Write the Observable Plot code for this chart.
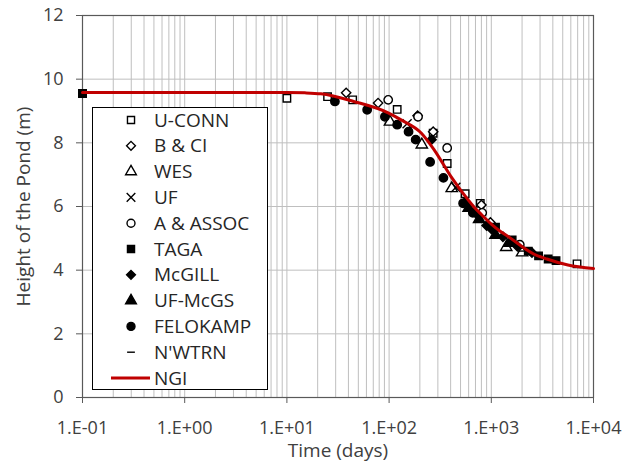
<!DOCTYPE html>
<html><head><meta charset="utf-8">
<script src="https://cdn.jsdelivr.net/npm/d3@7"></script>
<script src="https://cdn.jsdelivr.net/npm/@observablehq/plot@0.6"></script>
<style>
body{margin:0;background:#fff;font-family:"Open Sans",sans-serif}
#wrap{position:relative;width:634px;height:466px}
#legend{position:absolute;left:92px;top:107px}
</style></head><body><div id="wrap"></div>
<script>
// NGI model curve
const ngiTime   = [0.1, 10, 15, 21.5, 45, 98, 131, 206, 276, 405, 596, 681, 800, 1000, 1250, 1470, 2630, 3500, 5620, 10000];
const ngiHeight = [9.58, 9.58, 9.57, 9.54, 9.3, 8.94, 8.72, 8.31, 7.78, 6.93, 6.2, 5.98, 5.75, 5.45, 5.2, 5.05, 4.5, 4.35, 4.16, 4.05];

// predictions (markers)
const uconnTime = [0.1, 10, 25, 44, 120, 270, 370, 555, 780, 6900];
const uconnHeight = [9.55, 9.4, 9.45, 9.35, 9.05, 8.3, 7.35, 6.4, 6.1, 4.2];
const bciTime = [38, 78, 190, 270, 800, 980];
const bciHeight = [9.57, 9.25, 8.85, 8.35, 6.05, 5.5];
const wesTime = [102, 209, 410, 1400, 2000];
const wesHeight = [8.66, 7.94, 6.57, 4.72, 4.55];
const ufTime = [150, 450, 1500];
const ufHeight = [8.6, 6.6, 4.9];
const assocTime = [98, 192, 370, 815, 1900];
const assocHeight = [9.35, 8.82, 7.84, 5.8, 4.8];
const tagaTime = [0.1, 1100, 1600, 2300, 2900, 3600, 4300];
const tagaHeight = [9.55, 5.35, 4.95, 4.6, 4.45, 4.35, 4.3];
const mcgillTime = [260, 560, 700, 900, 1000, 1300, 1800, 2500];
const mcgillHeight = [8.1, 6.15, 5.8, 5.4, 5.3, 5.05, 4.75, 4.55];
const ufmcgsTime = [600, 760, 1100, 1500];
const ufmcgsHeight = [5.95, 5.6, 5.1, 4.85];
const felokampTime = [29.5, 61, 91, 120, 155, 182, 252, 340, 530, 660];
const felokampHeight = [9.3, 9.04, 8.82, 8.57, 8.35, 8.1, 7.4, 6.9, 6.1, 5.8];
const nwtrnTime = [700, 1200, 2000];
const nwtrnHeight = [5.7, 5.05, 4.6];

const seriesNames = ["U-CONN","B & CI","WES","UF","A & ASSOC","TAGA","McGILL","UF-McGS","FELOKAMP","N'WTRN"];
const xTicks = [0.1, 1, 10, 100, 1000, 10000];
const xTickLabels = ["1.E-01","1.E+00","1.E+01","1.E+02","1.E+03","1.E+04"];
const yTicks = [0, 2, 4, 6, 8, 10, 12];

const dash = {draw(ctx, size){ const w = Math.sqrt(size)*0.55; ctx.moveTo(-w,0); ctx.lineTo(w,0);} };
const styles = [
  {symbol:"square", fill:"white", stroke:"black"},
  {symbol:"diamond2", fill:"white", stroke:"black"},
  {symbol:"triangle", fill:"white", stroke:"black"},
  {symbol:"times", fill:"none", stroke:"black"},
  {symbol:"circle", fill:"white", stroke:"black"},
  {symbol:"square", fill:"black", stroke:"black"},
  {symbol:"diamond2", fill:"black", stroke:"black"},
  {symbol:"triangle", fill:"black", stroke:"black"},
  {symbol:"circle", fill:"black", stroke:"black"},
  {symbol:dash, fill:"none", stroke:"black"}
];
const seriesData = [
  [uconnTime,uconnHeight],[bciTime,bciHeight],[wesTime,wesHeight],[ufTime,ufHeight],[assocTime,assocHeight],
  [tagaTime,tagaHeight],[mcgillTime,mcgillHeight],[ufmcgsTime,ufmcgsHeight],[felokampTime,felokampHeight],[nwtrnTime,nwtrnHeight]
];
const ngi = ngiTime.map((t,i)=>({t, h:ngiHeight[i]}));

const minorGrid = [];
for (let e = -1; e < 4; e++) for (let m = 1; m <= 9; m++) minorGrid.push(m * Math.pow(10, e));
minorGrid.push(10000);

const pointMarks = seriesData.map(([ts, hs], i) =>
  Plot.dot(ts.map((t,j)=>({t, h:hs[j]})), {x:"t", y:"h", r:4.2, symbol:()=>styles[i].symbol,
    fill:styles[i].fill, stroke:styles[i].stroke, strokeWidth:1.4}));

const chart = Plot.plot({
  width:634, height:466,
  marginLeft:82, marginRight:41, marginTop:15, marginBottom:69,
  style:{fontFamily:"Open Sans, sans-serif", fontSize:"18px", color:"#404040", background:"white"},
  x:{type:"log", domain:[0.1,10000]},
  y:{domain:[0,12]},
  marks:[
    Plot.ruleX(minorGrid, {stroke:"#bfbfbf", strokeWidth:1}),
    Plot.ruleY(yTicks, {stroke:"#bfbfbf", strokeWidth:1}),
    Plot.frame({stroke:"#595959", strokeWidth:1.2}),
    Plot.axisX({ticks:xTicks, tickFormat:(d)=>xTickLabels[xTicks.indexOf(d)], tickSize:6, tickPadding:18, fontSize:18,
      stroke:"#595959", label:null}),
    Plot.axisX({ticks:[], tickSize:0, label:"Time (days)", labelAnchor:"center", labelOffset:59, labelArrow:false, fontSize:19}),
    Plot.axisY({ticks:yTicks, tickSize:6, tickPadding:13, stroke:"#595959", fontSize:18, label:null}),
    Plot.axisY({ticks:[], tickSize:0, label:"Height of the Pond (m)", labelAnchor:"center", labelOffset:66, labelArrow:false, fontSize:19}),
    ...pointMarks,
    Plot.line(ngi, {x:"t", y:"h", stroke:"#c00000", strokeWidth:3, curve:"monotone-x"})
  ]
});
const wrap = document.getElementById("wrap");
wrap.appendChild(chart);

// legend
const lg = d3.select(wrap).append("svg").attr("id","legend").attr("width",177).attr("height",284);
lg.append("rect").attr("x",0.5).attr("y",0.5).attr("width",175).attr("height",282).attr("fill","white").attr("stroke","black").attr("stroke-width",1);
const names = [...seriesNames, "NGI"];
names.forEach((n,i)=>{
  const cy = 13 + i*25.8;
  if (i < 10) {
    const st = styles[i];
    let type = st.symbol === dash ? dash : {square:d3.symbolSquare, diamond2:d3.symbolDiamond2, triangle:d3.symbolTriangle, times:d3.symbolTimes, circle:d3.symbolCircle}[st.symbol];
    lg.append("path").attr("transform",`translate(39,${cy})`).attr("d", d3.symbol(type, 50)())
      .attr("fill", st.fill).attr("stroke", st.stroke).attr("stroke-width",1.4);
  } else {
    lg.append("line").attr("x1",19).attr("x2",58).attr("y1",cy).attr("y2",cy).attr("stroke","#c00000").attr("stroke-width",3);
  }
  lg.append("text").attr("x",62).attr("y",cy).attr("dy","0.35em").attr("font-size","19px").attr("fill","#262626")
    .attr("font-family","Open Sans, sans-serif").text(n);
});
</script></body></html>
